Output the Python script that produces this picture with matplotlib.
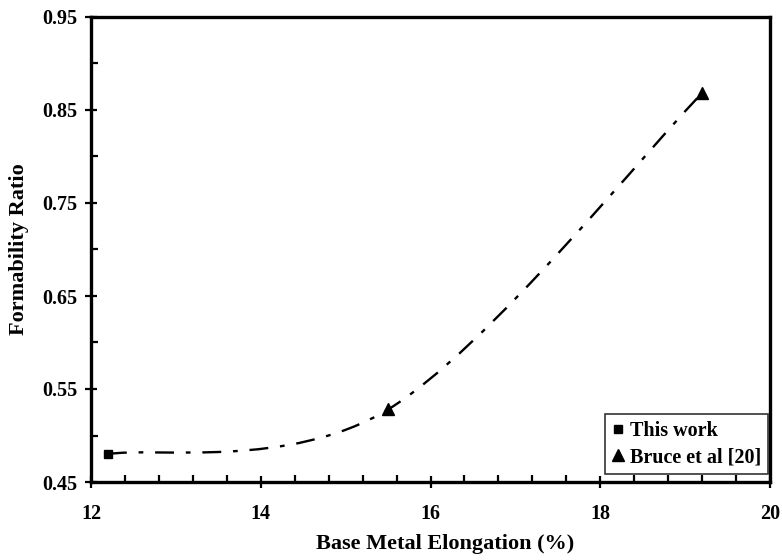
import matplotlib
matplotlib.use("Agg")
import matplotlib.pyplot as plt
import numpy as np
from matplotlib.path import Path
from matplotlib.patches import PathPatch
from matplotlib.ticker import MultipleLocator

# data
this_work_x = [12.2]
this_work_y = [0.480]
bruce_x = [15.5, 19.2]
bruce_y = [0.528, 0.868]

x_ticks = [12, 14, 16, 18, 20]
y_ticks = [0.45, 0.55, 0.65, 0.75, 0.85, 0.95]

plt.rcParams["font.family"] = ["Liberation Serif", "DejaVu Serif"]
plt.rcParams["font.weight"] = "bold"


def smooth_path(xs, ys):
    """Excel-style smoothed line (cubic Bezier through every point)."""
    pts = np.column_stack([xs, ys])
    n = len(pts)
    verts = [pts[0]]
    codes = [Path.MOVETO]
    for i in range(n - 1):
        p_prev = pts[max(i - 1, 0)]
        p0 = pts[i]
        p1 = pts[i + 1]
        p_next = pts[min(i + 2, n - 1)]
        c1 = p0 + (p1 - p_prev) / 6.0
        c2 = p1 - (p_next - p0) / 6.0
        verts += [c1, c2, p1]
        codes += [Path.CURVE4] * 3
    return Path(verts, codes)


fig = plt.figure(figsize=(7.82, 5.6), dpi=100)
ax = fig.add_axes([91 / 782, 1 - 482 / 560, (770 - 91) / 782, (482 - 17) / 560])

# smoothed trend line through all points
all_x = this_work_x + bruce_x
all_y = this_work_y + bruce_y
patch = PathPatch(smooth_path(all_x, all_y), fill=False, edgecolor="black",
                  linewidth=1.7, linestyle=(0, (8, 5, 2, 5)))
ax.add_patch(patch)

ax.plot(this_work_x, this_work_y, "s", color="black", markersize=5.5,
        linestyle="none", label="This work")
ax.plot(bruce_x, bruce_y, "^", color="black", markersize=9,
        linestyle="none", label="Bruce et al [20]")

ax.set_xlim(12, 20)
ax.set_ylim(0.45, 0.95)
ax.set_xticks(x_ticks)
ax.set_yticks(y_ticks)
ax.xaxis.set_minor_locator(MultipleLocator(0.4))
ax.yaxis.set_minor_locator(MultipleLocator(0.05))
ax.set_yticklabels([f"{v:.2f}" for v in y_ticks])

ax.tick_params(which="major", direction="inout", length=9, width=1.6,
               labelsize=14.5)
ax.tick_params(axis="x", which="major", pad=11)
ax.tick_params(axis="y", which="major", pad=5)
ax.tick_params(which="minor", direction="in", length=5, width=1.6)
for lab in ax.get_xticklabels() + ax.get_yticklabels():
    lab.set_fontweight("bold")

for spine in ax.spines.values():
    spine.set_linewidth(2.4)

ax.set_xlabel("Base Metal Elongation (%)", fontsize=16, fontweight="bold")
ax.set_ylabel("Formability Ratio", fontsize=16, fontweight="bold")
ax.xaxis.set_label_coords(0.522, -0.112)
ax.yaxis.set_label_coords(-0.092, 0.5)

leg = ax.legend(loc="lower right", frameon=True, fancybox=False,
                edgecolor="black", handlelength=0.5, handletextpad=0.35,
                borderpad=0.35, labelspacing=0.3, borderaxespad=0.0,
                bbox_to_anchor=(0.997, 0.017),
                prop={"weight": "bold", "size": 14.5})
leg.get_frame().set_linewidth(1.2)

fig.savefig("out.png", dpi=100)
